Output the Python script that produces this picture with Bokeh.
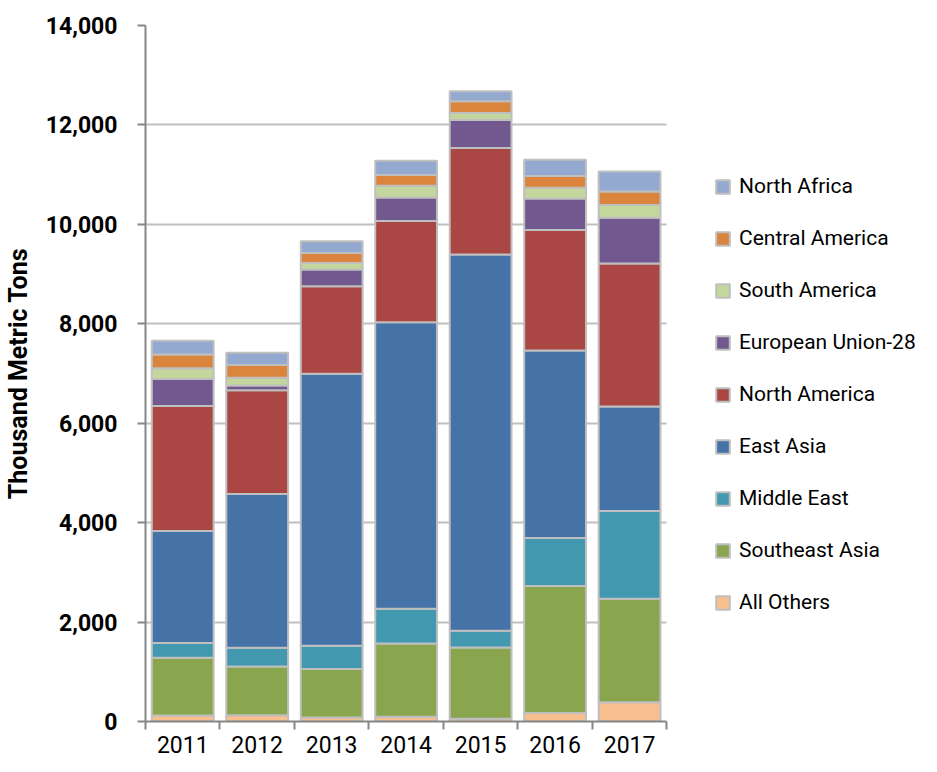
from bokeh.plotting import figure
from bokeh.models import (ColumnDataSource, FixedTicker, Legend, LegendItem,
                          Range1d, NumeralTickFormatter)
from bokeh.embed import file_html
from bokeh.resources import INLINE

years = ["2011", "2012", "2013", "2014", "2015", "2016", "2017"]

all_others = [120, 125, 80, 95, 55, 170, 385]
southeast_asia = [1160, 980, 975, 1475, 1435, 2555, 2085]
middle_east = [300, 380, 470, 700, 335, 965, 1765]
east_asia = [2250, 3090, 5470, 5760, 7570, 3775, 2100]
north_america = [2515, 2090, 1760, 2040, 2140, 2420, 2880]
eu28 = [545, 95, 335, 470, 565, 635, 920]
south_america = [215, 155, 135, 235, 140, 215, 255]
central_america = [275, 255, 200, 220, 235, 240, 270]
north_africa = [280, 245, 235, 285, 200, 325, 405]

series_names = ["All Others", "Southeast Asia", "Middle East", "East Asia",
                "North America", "European Union-28", "South America",
                "Central America", "North Africa"]
series_values = [all_others, southeast_asia, middle_east, east_asia,
                 north_america, eu28, south_america, central_america, north_africa]
colors = ["#F9BF8F", "#89A54E", "#4198AF", "#4572A7", "#AA4643",
          "#71588F", "#C3D69B", "#DB843D", "#93A9CF"]

yticks = [0, 2000, 4000, 6000, 8000, 10000, 12000, 14000]

FONT = "Roboto"

# layout (pixels)
W, H = 921, 756
LEFT, TOP, BOTTOM = 138, 25, 35
PLOT_W = 526          # width of the bar area
n = len(years)
x_end = 0.5 + n * (W - LEFT) / PLOT_W   # frame extends under the legend

x = list(range(1, n + 1))
data = {"x": x}
for name, vals in zip(series_names, series_values):
    data[name] = vals
src = ColumnDataSource(data)

p = figure(width=W, height=H, output_backend="svg", toolbar_location=None,
           x_range=Range1d(0.5, x_end), y_range=Range1d(0, 14000),
           min_border_left=LEFT, min_border_right=0, min_border_top=TOP,
           min_border_bottom=BOTTOM)
p.outline_line_color = None
p.background_fill_color = "white"

renderers = p.vbar_stack(series_names, x="x", width=0.83, source=src,
                         fill_color=colors, line_color="#BFBFBF", line_width=2)

# x axis
p.xaxis.bounds = (0.5, n + 0.5)
p.xaxis.ticker = FixedTicker(ticks=x, minor_ticks=[i + 0.5 for i in range(n + 1)])
p.xaxis.major_label_overrides = {i + 1: y for i, y in enumerate(years)}
p.xaxis.major_tick_line_color = None
p.xaxis.major_tick_in = 0
p.xaxis.major_tick_out = 0
p.xaxis.minor_tick_in = 0
p.xaxis.minor_tick_out = 8
p.xaxis.minor_tick_line_color = "#868686"
p.xaxis.minor_tick_line_width = 2
p.xaxis.axis_line_color = "#868686"
p.xaxis.axis_line_width = 2
p.xaxis.major_label_text_font = FONT
p.xaxis.major_label_text_font_size = "23px"
p.xaxis.major_label_text_color = "#000000"
p.xaxis.major_label_standoff = 6

# y axis
p.yaxis.ticker = FixedTicker(ticks=yticks)
p.yaxis.formatter = NumeralTickFormatter(format="0,0")
p.yaxis.major_tick_in = 0
p.yaxis.major_tick_out = 8
p.yaxis.major_tick_line_color = "#868686"
p.yaxis.major_tick_line_width = 2
p.yaxis.minor_tick_line_color = None
p.yaxis.axis_line_color = "#868686"
p.yaxis.axis_line_width = 2
p.yaxis.major_label_text_font = FONT
p.yaxis.major_label_text_font_style = "bold"
p.yaxis.major_label_text_font_size = "23px"
p.yaxis.major_label_text_color = "#000000"
p.yaxis.major_label_standoff = 20
p.yaxis.axis_label = "Thousand Metric Tons"
p.yaxis.axis_label_text_font = FONT
p.yaxis.axis_label_text_font_style = "bold"
p.yaxis.axis_label_text_font_size = "25px"
p.yaxis.axis_label_text_color = "#000000"
p.yaxis.axis_label_standoff = 10

p.xgrid.visible = False
p.ygrid.grid_line_color = "#C0C0C0"
p.ygrid.grid_line_width = 2
p.ygrid.cross_bounds = (0.5, n + 0.5)

items = [LegendItem(label=name, renderers=[r])
         for name, r in reversed(list(zip(series_names, renderers)))]
legend = Legend(items=items, location=(569, 106), orientation="vertical",
                padding=0, margin=0, border_line_color=None,
                background_fill_alpha=0, glyph_width=17, glyph_height=17,
                label_standoff=8, spacing=26, label_height=26,
                label_text_font=FONT, label_text_font_size="21px",
                label_text_color="#000000")
p.add_layout(legend)

open("out.html", "w").write(file_html(p, INLINE))
